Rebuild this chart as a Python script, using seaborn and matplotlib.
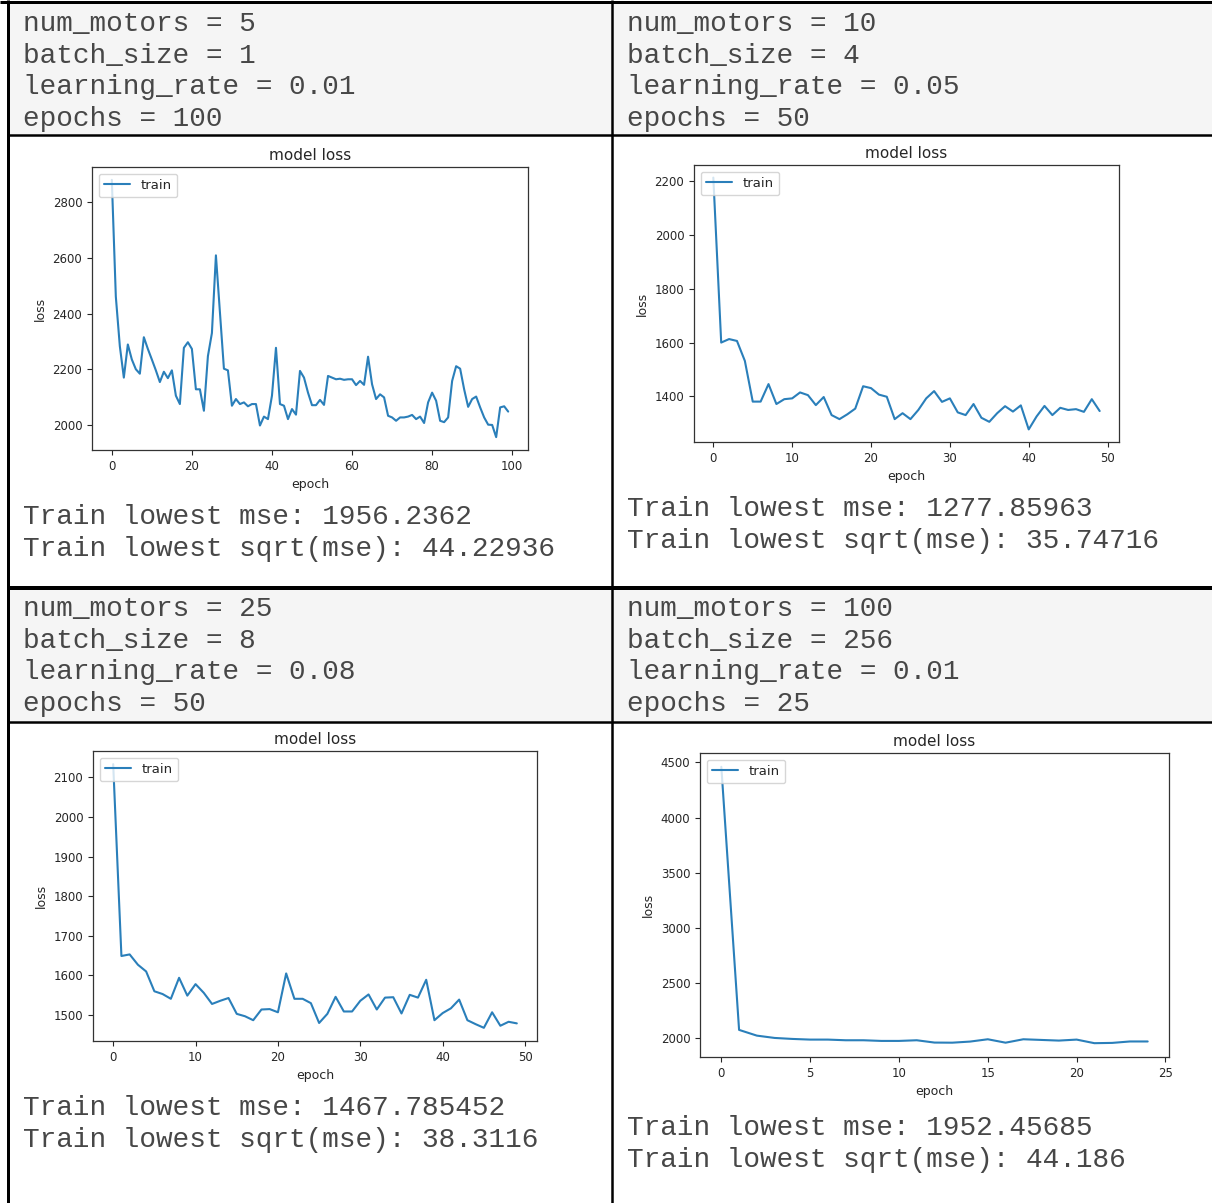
import matplotlib
matplotlib.use("Agg")
import matplotlib.pyplot as plt
import numpy as np
import pandas as pd
import seaborn as sns
from matplotlib.lines import Line2D
from matplotlib.patches import Rectangle
from matplotlib.ticker import MultipleLocator

# ---------------------------------------------------------------- data
loss_run1 = [2880, 2461, 2283, 2170, 2289, 2235, 2200, 2184, 2315, 2273,
             2235, 2196, 2154, 2191, 2168, 2196, 2105, 2075, 2277, 2297,
             2273, 2128, 2128, 2051, 2247, 2330, 2609, 2405, 2202, 2196,
             2069, 2093, 2075, 2081, 2067, 2075, 2075, 1998, 2030, 2021,
             2105, 2277, 2075, 2069, 2021, 2057, 2037, 2194, 2170, 2116,
             2071, 2071, 2090, 2072, 2176, 2170, 2164, 2166, 2162, 2164,
             2164, 2143, 2158, 2144, 2245, 2146, 2093, 2110, 2099, 2033,
             2027, 2015, 2027, 2027, 2030, 2036, 2021, 2030, 2007, 2081,
             2116, 2087, 2015, 2010, 2027, 2158, 2211, 2202, 2128, 2065,
             2093, 2102, 2063, 2027, 2001, 2000, 1956.2362, 2063, 2067, 2048]

loss_run2 = [2212, 1600, 1613, 1606, 1532, 1381, 1381, 1446, 1372, 1390,
             1393, 1415, 1405, 1368, 1398, 1331, 1316, 1334, 1355, 1438,
             1431, 1407, 1399, 1316, 1338, 1316, 1350, 1393, 1420, 1380,
             1393, 1341, 1331, 1372, 1321, 1306, 1338, 1364, 1344, 1367,
             1277.85963, 1326, 1365, 1331, 1358, 1350, 1353, 1343, 1390, 1346]

loss_run3 = [2133, 1649, 1653, 1627, 1610, 1560, 1553, 1541, 1594, 1549,
             1578, 1556, 1528, 1536, 1543, 1503, 1497, 1487, 1514, 1515,
             1507, 1605, 1541, 1541, 1530, 1480, 1503, 1546, 1509, 1509,
             1536, 1552, 1514, 1544, 1545, 1504, 1551, 1544, 1589, 1487,
             1505, 1517, 1539, 1487, 1477, 1467.785452, 1507, 1473, 1483, 1479]

loss_run4 = [4460, 2073, 2021, 2000, 1991, 1985, 1985, 1979, 1979, 1973,
             1973, 1979, 1958, 1957, 1967, 1988, 1957, 1988, 1982, 1976,
             1985, 1952.45685, 1955, 1968, 1968]

params_run1 = ["num_motors = 5", "batch_size = 1", "learning_rate = 0.01", "epochs = 100"]
params_run2 = ["num_motors = 10", "batch_size = 4", "learning_rate = 0.05", "epochs = 50"]
params_run3 = ["num_motors = 25", "batch_size = 8", "learning_rate = 0.08", "epochs = 50"]
params_run4 = ["num_motors = 100", "batch_size = 256", "learning_rate = 0.01", "epochs = 25"]

result_run1 = ["Train lowest mse: 1956.2362", "Train lowest sqrt(mse): 44.22936"]
result_run2 = ["Train lowest mse: 1277.85963", "Train lowest sqrt(mse): 35.74716"]
result_run3 = ["Train lowest mse: 1467.785452", "Train lowest sqrt(mse): 38.3116"]
result_run4 = ["Train lowest mse: 1952.45685", "Train lowest sqrt(mse): 44.186"]

# ---------------------------------------------------------------- figure
W, H, DPI = 1212, 1203, 100
sns.set_style("ticks")
plt.rcParams["font.family"] = ["DejaVu Sans"]

fig = plt.figure(figsize=(W / DPI, H / DPI), dpi=DPI)
fig.patch.set_facecolor("white")


def fx(x):
    return x / W


def fy(y):
    return 1 - y / H


def px_lw(p):
    return p * 72 / DPI


# grey header cells
HEADER_BG = "#f5f5f5"
for (x0, x1, y0, y1) in [(9.5, 611, 2.5, 134), (613.5, 1212, 2.5, 134),
                         (9.5, 611, 590, 721), (613.5, 1212, 590, 721)]:
    fig.add_artist(Rectangle((fx(x0), fy(y1)), fx(x1 - x0), (y1 - y0) / H,
                             transform=fig.transFigure, facecolor=HEADER_BG,
                             edgecolor="none", zorder=0))

# table rules
rules = [((0, 1212), (1.5, 1.5), 3),
         ((8, 8), (0, 1203), 3),
         ((612, 612), (0, 1203), 2.5),
         ((8, 1212), (135, 135), 2.5),
         ((8, 1212), (588, 588), 4),
         ((8, 1212), (722, 722), 2.5)]
for xs, ys, w in rules:
    fig.add_artist(Line2D([fx(xs[0]), fx(xs[1])], [fy(ys[0]), fy(ys[1])],
                          transform=fig.transFigure, color="black",
                          linewidth=px_lw(w), solid_capstyle="butt", zorder=5))

MONO = dict(family="Liberation Mono", fontsize=20, color="#474747", va="center", ha="left")


def block(x, y_first, lines, step):
    for i, s in enumerate(lines):
        fig.text(fx(x), fy(y_first + i * step), s, **MONO)


block(23, 24, params_run1, 31.7)
block(627, 24, params_run2, 31.7)
block(23, 609, params_run3, 31.7)
block(627, 609, params_run4, 31.7)

block(23, 517, result_run1, 32)
block(627, 509, result_run2, 32)
block(23, 1108, result_run3, 32)
block(627, 1128, result_run4, 32)

# ---------------------------------------------------------------- loss curves
panels = [
    (loss_run1, (92, 167, 528, 450), 20, 200),
    (loss_run2, (694, 165, 1119, 442), 10, 200),
    (loss_run3, (93, 751, 537, 1041), 10, 100),
    (loss_run4, (700, 753, 1169, 1057), 5, 500),
]

for values, (l, t, r, b), xstep, ystep in panels:
    ax = fig.add_axes([fx(l), fy(b), fx(r - l), (b - t) / H])
    df = pd.DataFrame({"epoch": np.arange(len(values)), "loss": values})
    sns.lineplot(data=df, x="epoch", y="loss", ax=ax, color="#2a7fba",
                 linewidth=1.5, label="train")
    ax.xaxis.set_major_locator(MultipleLocator(xstep))
    ax.yaxis.set_major_locator(MultipleLocator(ystep))
    ax.tick_params(labelsize=8.5, length=3.5, width=0.8, colors="#262626")
    ax.set_title("model loss", fontsize=11, color="#262626", pad=5)
    ax.set_xlabel("epoch", fontsize=9, color="#262626")
    ax.set_ylabel("loss", fontsize=9, color="#262626")
    for sp in ax.spines.values():
        sp.set_linewidth(0.9)
        sp.set_color("#333333")
    leg = ax.legend(loc="upper left", fontsize=9.5, frameon=True)
    leg.get_frame().set_edgecolor("0.8")

fig.savefig("out.png", dpi=DPI)
